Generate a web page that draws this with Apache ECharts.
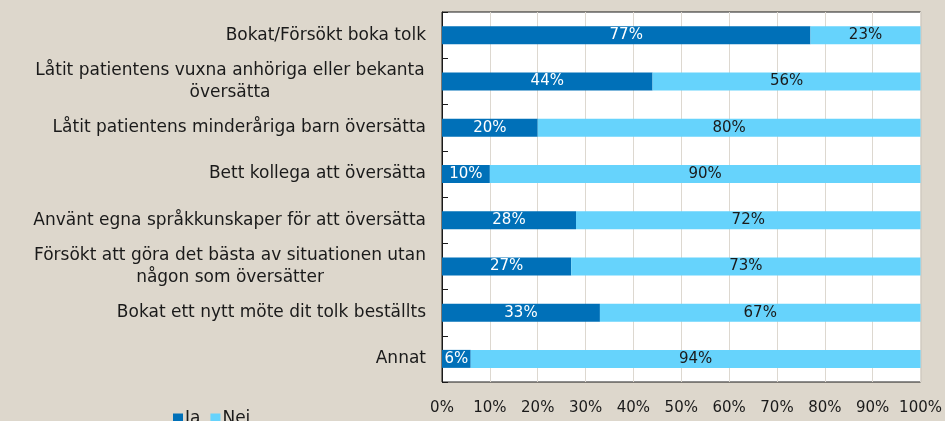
<!DOCTYPE html>
<html>
<head>
<meta charset="utf-8">
<script src="https://cdn.jsdelivr.net/npm/echarts@6/dist/echarts.min.js"></script>
<style>
  html, body { margin: 0; padding: 0; background: #ddd7cc; }
  #chart { width: 945px; height: 421px; }
</style>
</head>
<body>
<div id="chart"></div>
<script>
const categories = [
  'Bokat/Försökt boka tolk',
  'Låtit patientens vuxna anhöriga eller bekanta\növersätta',
  'Låtit patientens minderåriga barn översätta',
  'Bett kollega att översätta',
  'Använt egna språkkunskaper för att översätta',
  'Försökt att göra det bästa av situationen utan\nnågon som översätter',
  'Bokat ett nytt möte dit tolk beställts',
  'Annat'
]
const jaValues = [77, 44, 20, 10, 28, 27, 33, 6]
const neiValues = [23, 56, 80, 90, 72, 73, 67, 94]
const xTicks = [0, 10, 20, 30, 40, 50, 60, 70, 80, 90, 100]

const FONT = '"DejaVu Sans", sans-serif'
const LABEL_SIZE = 17

// measure text so wrapped labels can be centred as a block
const ctx = document.createElement('canvas').getContext('2d')
ctx.font = LABEL_SIZE + 'px ' + FONT
function catLabel(v) {
  const lines = v.split('\n')
  if (lines.length === 1) return v
  return lines.map(l => '{c|' + l + '}').join('\n')
}
function catRich() {
  let w = 0
  categories.forEach(c => {
    const lines = c.split('\n')
    if (lines.length > 1) lines.forEach(l => { w = Math.max(w, ctx.measureText(l).width) })
  })
  return { c: { width: Math.ceil(w), align: 'center', fontSize: LABEL_SIZE, fontFamily: FONT, color: '#1a1a1a', lineHeight: 22 } }
}

const chart = echarts.init(document.getElementById('chart'))
chart.setOption({
  backgroundColor: '#ddd7cc',
  animation: false,
  textStyle: { fontFamily: FONT },
  grid: {
    left: 442, right: 24, top: 12, bottom: 39,
    show: true, borderColor: '#1a1a1a', borderWidth: 1, backgroundColor: '#ffffff'
  },
  legend: {
    left: 168, top: 405,
    itemWidth: 10, itemHeight: 10, itemGap: 10,
    icon: 'rect',
    textStyle: { fontSize: 17, color: '#1a1a1a', fontFamily: FONT, padding: [0, 0, 0, -3] },
    data: ['Ja', 'Nei']
  },
  xAxis: {
    type: 'value',
    min: 0, max: 100, interval: 10,
    axisLine: { show: false },
    axisTick: { show: false },
    splitLine: { lineStyle: { color: '#ddd8d0', width: 1 } },
    axisLabel: {
      margin: 19, fontSize: 15, color: '#1a1a1a', fontFamily: FONT,
      formatter: v => xTicks.includes(v) ? v + '%' : ''
    }
  },
  yAxis: {
    type: 'category',
    inverse: true,
    data: categories,
    axisLine: { show: true, lineStyle: { color: '#1a1a1a' } },
    axisTick: { show: true, inside: true, length: 6, lineStyle: { color: '#1a1a1a' } },
    axisLabel: {
      margin: 16, fontSize: LABEL_SIZE, color: '#1a1a1a', fontFamily: FONT, lineHeight: 22,
      formatter: catLabel,
      rich: catRich()
    }
  },
  series: [
    {
      name: 'Ja', type: 'bar', stack: 'all', barWidth: 18,
      itemStyle: { color: '#0070b8' },
      label: { show: true, position: 'inside', color: '#ffffff', fontSize: 15, fontFamily: FONT, formatter: p => p.value + '%' },
      data: jaValues
    },
    {
      name: 'Nei', type: 'bar', stack: 'all', barWidth: 18,
      itemStyle: { color: '#66d3fc' },
      label: { show: true, position: 'inside', color: '#1a1a1a', fontSize: 15, fontFamily: FONT, formatter: p => p.value + '%' },
      data: neiValues
    }
  ]
})
</script>
</body>
</html>
